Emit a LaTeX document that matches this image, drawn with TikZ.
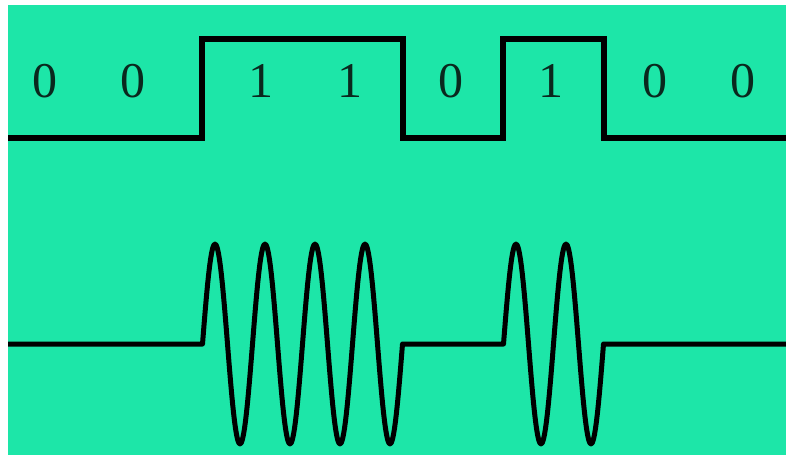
\documentclass[tikz,border=0pt]{standalone}
\usepackage{fontspec}
\setmainfont{Liberation Serif}
\definecolor{bg}{RGB}{29,230,168}
\definecolor{ink}{RGB}{10,40,30}
\tikzset{
  sig/.style={line width=6pt, line join=miter, black},
  wave/.style={line width=5pt, line join=round, black},
  bit/.style={anchor=base, inner sep=0pt, text=ink, font=\fontsize{50}{60}\selectfont}
}
\begin{document}
\begin{tikzpicture}[x=1pt, y=-1pt]
\useasboundingbox (0,0) rectangle (786,455);
\fill[white] (0,0) rectangle (786,455);
\fill[bg] (8,5) rectangle (786,455);
% digital signal
\draw[sig] (8,137.5) -- (201.5,137.5) -- (201.5,38.5) -- (402.5,38.5) -- (402.5,137.5)
  -- (503,137.5) -- (503,38.5) -- (604,38.5) -- (604,137.5) -- (786,137.5);
% bits
\node[bit] (b1) at (44.5,97) {0};
\node[bit] (b2) at (133,97) {0};
\node[bit] (b3) at (261,97) {1};
\node[bit] (b4) at (350,97) {1};
\node[bit] (b5) at (451,97) {0};
\node[bit] (b6) at (551,97) {1};
\node[bit] (b7) at (655,97) {0};
\node[bit] (b8) at (743,97) {0};
% modulated signal
\draw[wave] (8,344) -- (202.5,344)
  -- plot[domain=0:200, samples=201] ({202.5+\x}, {344-100*sin(\x*7.2)})
  -- (503.5,344)
  -- plot[domain=0:100, samples=101] ({503.5+\x}, {344-100*sin(\x*7.2)})
  -- (786,344);
\end{tikzpicture}
\end{document}
